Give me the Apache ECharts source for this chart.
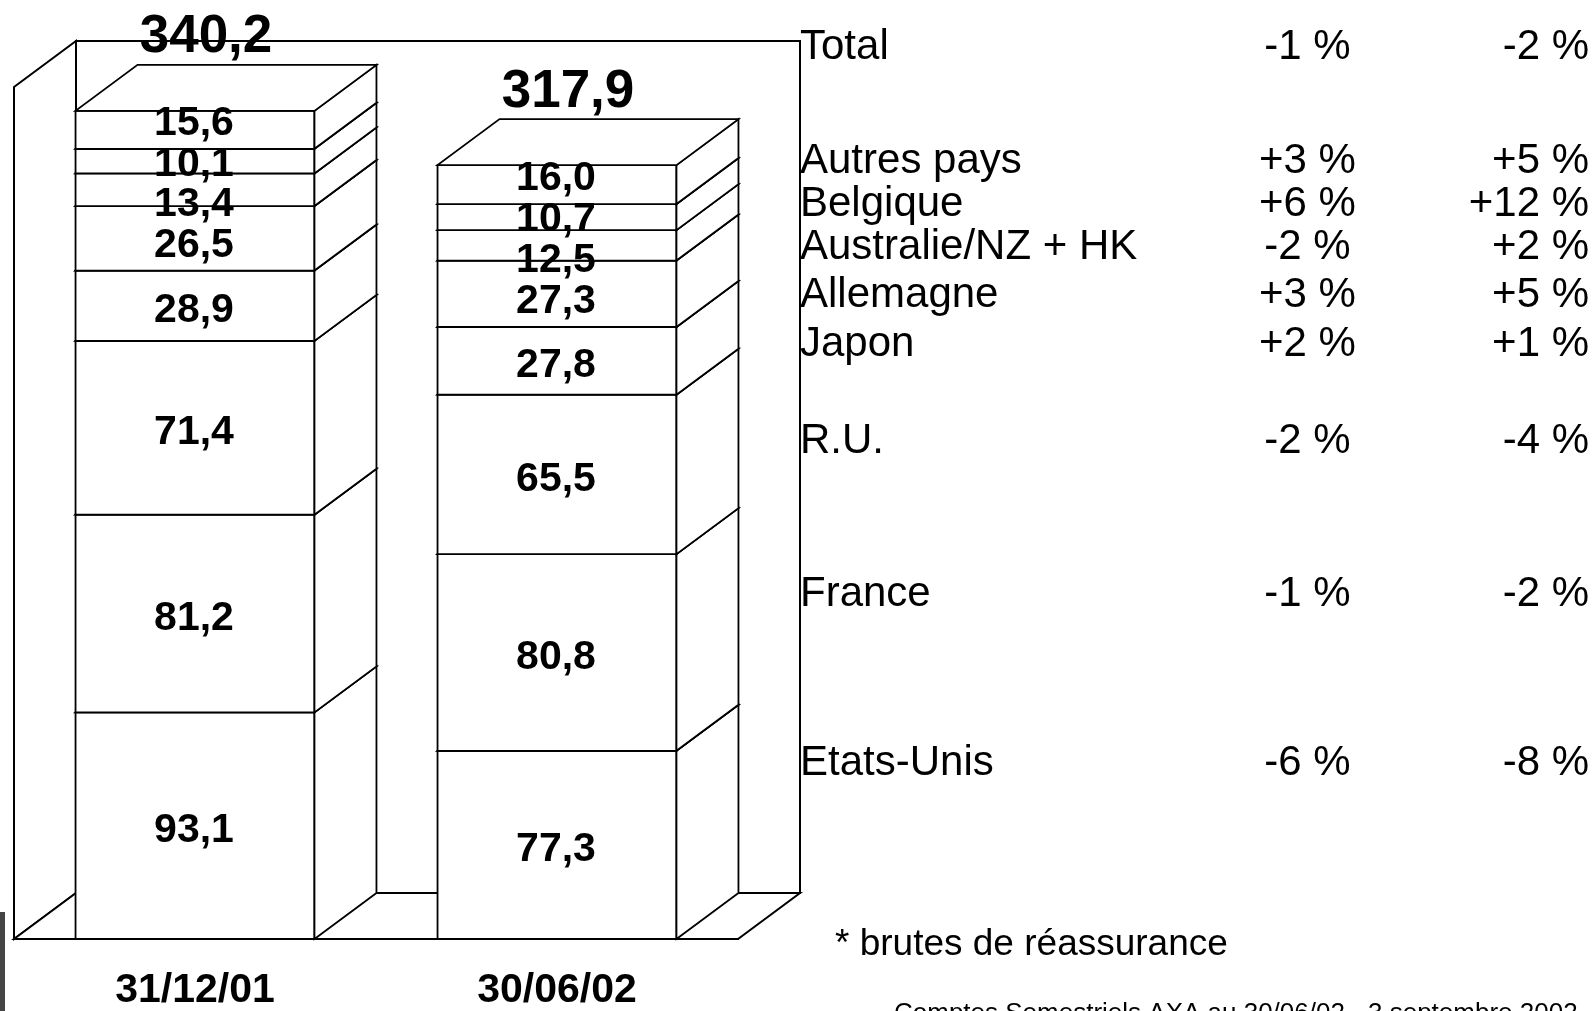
<!DOCTYPE html>
<html>
<head>
<meta charset="utf-8">
<script src="https://cdn.jsdelivr.net/npm/echarts@6/dist/echarts.min.js"></script>
<style>
  html, body { margin: 0; padding: 0; background: #fff; }
  #chart { width: 1596px; height: 1011px; }
</style>
</head>
<body>
<div id="chart"></div>
<script>
// --- data (Mds d'euros) ---
const categories = ['31/12/01', '30/06/02'];
const countries = ['Etats-Unis', 'France', 'R.U.', 'Japon', 'Allemagne', 'Australie/NZ + HK', 'Belgique', 'Autres pays'];
const etatsUnis = [93.1, 77.3];
const france = [81.2, 80.8];
const ru = [71.4, 65.5];
const japon = [28.9, 27.8];
const allemagne = [26.5, 27.3];
const australie = [13.4, 12.5];
const belgique = [10.1, 10.7];
const autresPays = [15.6, 16.0];
const totals = [340.2, 317.9];

// tableau des variations (droite)
const tableNames = ['Total', 'Autres pays', 'Belgique', 'Australie/NZ + HK', 'Allemagne', 'Japon', 'R.U.', 'France', 'Etats-Unis'];
const changeReported = ['-1 %', '+3 %', '+6 %', '-2 %', '+3 %', '+2 %', '-2 %', '-1 %', '-6 %'];
const changeConstant = ['-2 %', '+5 %', '+12 %', '+2 %', '+5 %', '+1 %', '-4 %', '-2 %', '-8 %'];

// --- layout / style ---
const GRID = { left: 14, right: 858, top: 87, bottom: 69 };
const Y_MAX = 350;
const DX = 62, DY = 46;        // profondeur 3D
const BAR_RATIO = 0.66;
const LABEL_GAP = 41;          // px mini entre deux etiquettes
const SHIFT = 3;               // 'middle' -> centre des capitales
const FONT = '"Liberation Sans", Arial, sans-serif';
const rowY = [44.5, 158, 201, 244.5, 292.5, 341, 438, 591, 760];
const lineStyle = { fill: '#fff', stroke: '#000', lineWidth: 1.8 };

function fmt(v) { return v.toFixed(1).replace('.', ','); }

function textStyle(text, x, y, font, align) {
  return {
    text: text, x: x, y: y + SHIFT, font: font,
    fill: '#000', textFill: '#000',
    align: align, textAlign: align,
    verticalAlign: 'middle', textVerticalAlign: 'middle'
  };
}

// etiquettes ecartees quand les segments sont trop fins (comme PowerPoint)
const seriesValues = [etatsUnis, france, ru, japon, allemagne, australie, belgique, autresPays];
const pxPerUnit = (1011 - GRID.top - GRID.bottom) / Y_MAX;
const labelPos = categories.map((c, i) => {
  let base = 0;
  const pos = seriesValues.map(vals => { const m = base + vals[i] / 2; base += vals[i]; return m; });
  const gap = LABEL_GAP / pxPerUnit;
  for (let it = 0; it < 200; it++) {
    for (let k = 0; k < pos.length - 1; k++) {
      const d = pos[k + 1] - pos[k];
      if (d < gap) { pos[k] -= (gap - d) / 2; pos[k + 1] += (gap - d) / 2; }
    }
  }
  return pos;
});

function renderSegment(params, api) {
  const idx = api.value(0);
  const base = api.value(1);
  const top = api.value(2);
  const bw = api.size([1, 0])[0] * BAR_RATIO;
  const pb = api.coord([idx, base]);
  const pt = api.coord([idx, top]);
  const pl = api.coord([idx, api.value(4)]);
  const x0 = pb[0] - bw / 2, x1 = pb[0] + bw / 2;
  const yb = pb[1], yt = pt[1];
  return {
    type: 'group',
    children: [
      { type: 'polygon', shape: { points: [[x0, yb], [x1, yb], [x1, yt], [x0, yt]] }, style: lineStyle },
      { type: 'polygon', shape: { points: [[x1, yb], [x1 + DX, yb - DY], [x1 + DX, yt - DY], [x1, yt]] }, style: lineStyle },
      { type: 'polygon', shape: { points: [[x0, yt], [x1, yt], [x1 + DX, yt - DY], [x0 + DX, yt - DY]] }, style: lineStyle },
      { type: 'text', z2: 100, style: textStyle(fmt(api.value(3)), (x0 + x1) / 2 - 1, pl[1] + 2, 'bold 41px ' + FONT, 'center') }
    ]
  };
}

function renderWalls(params, api) {
  const c = params.coordSys;
  const gx = c.x, gy = c.y, gw = c.width, gh = c.height;
  const st = { fill: '#fff', stroke: '#000', lineWidth: 2 };
  return {
    type: 'group',
    children: [
      { type: 'polygon', shape: { points: [[gx + DX, gy - DY], [gx + gw + DX, gy - DY], [gx + gw + DX, gy + gh - DY], [gx + DX, gy + gh - DY]] }, style: st },
      { type: 'polygon', shape: { points: [[gx, gy], [gx + DX, gy - DY], [gx + DX, gy + gh - DY], [gx, gy + gh]] }, style: st },
      { type: 'polygon', shape: { points: [[gx, gy + gh], [gx + DX, gy + gh - DY], [gx + gw + DX, gy + gh - DY], [gx + gw, gy + gh]] }, style: st }
    ]
  };
}

function renderTotal(params, api) {
  const p = api.coord([api.value(0), api.value(1)]);
  return { type: 'text', z2: 100, style: textStyle(fmt(api.value(1)), p[0] + 11, p[1] - DY - 30, 'bold 53px ' + FONT, 'center') };
}

const running = categories.map(() => 0);
const segmentSeries = seriesValues.map((vals, k) => {
  const data = vals.map((v, i) => {
    const item = [i, running[i], running[i] + v, v, labelPos[i][k]];
    running[i] += v;
    return item;
  });
  return {
    name: countries[k],
    type: 'custom',
    renderItem: renderSegment,
    encode: { x: 0, y: [1, 2] },
    data: data
  };
});

const graphic = [];
tableNames.forEach((name, i) => {
  graphic.push({ type: 'text', style: textStyle(name, 800, rowY[i], '42px ' + FONT, 'left') });
  graphic.push({ type: 'text', style: textStyle(changeReported[i], 1307.5, rowY[i], '42px ' + FONT, 'center') });
  graphic.push({ type: 'text', style: textStyle(changeConstant[i], 1589, rowY[i], '42px ' + FONT, 'right') });
});
graphic.push({ type: 'text', style: textStyle('* brutes de réassurance', 835, 942, '37px ' + FONT, 'left') });
graphic.push({ type: 'text', style: textStyle('Comptes Semestriels AXA au 30/06/02 - 3 septembre 2002', 894, 1011, '26px ' + FONT, 'left') });
graphic.push({ type: 'rect', shape: { x: 0, y: 912, width: 5, height: 99 }, style: { fill: '#454545' } });

const option = {
  animation: false,
  backgroundColor: '#fff',
  grid: GRID,
  xAxis: {
    type: 'category',
    data: categories,
    boundaryGap: true,
    axisLine: { lineStyle: { color: '#000', width: 2 } },
    axisTick: { length: 12, lineStyle: { color: '#000', width: 2 } },
    axisLabel: { color: '#000', fontSize: 41, fontWeight: 'bold', fontFamily: FONT, margin: 31 },
    splitLine: { show: false }
  },
  yAxis: { type: 'value', min: 0, max: Y_MAX, show: false },
  graphic: graphic,
  series: [
    { name: 'fond', type: 'custom', renderItem: renderWalls, encode: { x: 0, y: 1 }, data: [[0, 0]], silent: true }
  ].concat(segmentSeries).concat([
    { name: 'Total', type: 'custom', renderItem: renderTotal, encode: { x: 0, y: 1 }, data: totals.map((t, i) => [i, t]) }
  ])
};

const chart = echarts.init(document.getElementById('chart'));
chart.setOption(option);
</script>
</body>
</html>
